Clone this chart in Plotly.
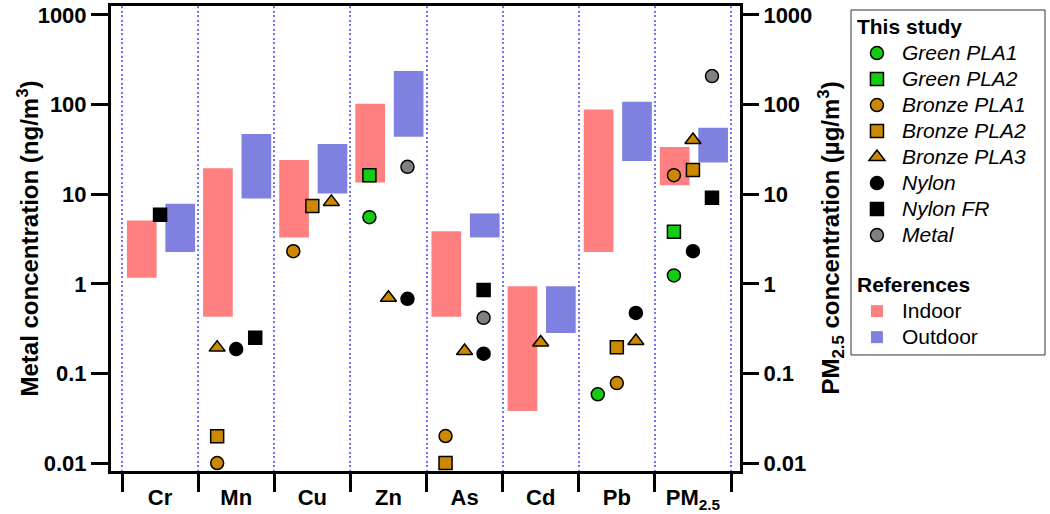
import plotly.graph_objects as go

# ---------------- data ----------------
categories = ["Cr", "Mn", "Cu", "Zn", "As", "Cd", "Pb", "PM<sub>2.5</sub>"]

indoor_low = [1.17, 0.43, 3.29, 13.5, 0.43, 0.038, 2.27, 12.6]
indoor_high = [5.1, 19.5, 24.0, 102.0, 3.87, 0.94, 88.3, 33.6]
outdoor_low = [2.27, 8.95, 10.2, 43.7, 3.29, 0.283, 23.4, 22.6]
outdoor_high = [7.8, 47.0, 36.2, 237.0, 6.1, 0.94, 107.7, 55.2]

# study values per category (None = not reported), with slot in category (-1, 0, +1)
green_pla1 = [None, None, None, 5.54, None, None, 0.0585, 1.24]
green_pla1_slot = [0, 0, 0, -1, 0, 0, -1, -1]
green_pla2 = [None, None, None, 16.3, None, None, None, 3.8]
green_pla2_slot = [0, 0, 0, -1, 0, 0, 0, -1]
bronze_pla1 = [None, 0.01, 2.31, None, 0.020, None, 0.078, 16.3]
bronze_pla1_slot = [0, -1, -1, 0, -1, 0, 0, -1]
bronze_pla2 = [None, 0.0199, 7.36, None, 0.01, None, 0.196, 18.6]
bronze_pla2_slot = [0, -1, 0, 0, -1, 0, 0, 0]
bronze_pla3 = [None, 0.194, 8.2, 0.70, 0.178, 0.221, 0.23, 40.2]
bronze_pla3_slot = [0, -1, 1, 0, 0, 0, 1, 0]
nylon = [None, 0.187, None, 0.68, 0.166, None, 0.473, 2.31]
nylon_slot = [0, 0, 0, 1, 1, 0, 1, 0]
nylon_fr = [5.9, 0.25, None, None, 0.85, None, None, 9.12]
nylon_fr_slot = [0, 1, 0, 0, 1, 0, 0, 1]
metal = [None, None, None, 20.2, 0.417, None, None, 208.0]
metal_slot = [0, 0, 0, 1, 1, 0, 0, 1]

y_tickvals = [0.01, 0.1, 1, 10, 100, 1000]
y_ticktext = ["0.01", "0.1", "1", "10", "100", "1000"]

left_title = "Metal concentration (ng/m<sup>3</sup>)"
right_title = "PM<sub>2.5</sub> concentration (µg/m<sup>3</sup>)"

# ---------------- styling ----------------
FONT = "Liberation Sans, Arial, sans-serif"
SLOT = 0.25
GREEN = "#14cc14"
BRONZE = "#cc8800"
GREY = "#808080"
BLACK = "#000000"
INDOOR = "#ff8080"
OUTDOOR = "#8080e0"
LEG_PX = 21


def leg_text(t, italic=False, bold=False):
    if italic:
        t = f"<i>{t}</i>"
    if bold:
        t = f"<b>{t}</b>"
    return f'<span style="font-size:{LEG_PX}px">{t}</span>'


fig = go.Figure()

idx = list(range(len(categories)))

fig.add_trace(go.Bar(
    x=[i - 0.24 for i in idx],
    y=[h - l for h, l in zip(indoor_high, indoor_low)],
    base=indoor_low, width=0.39,
    marker=dict(color=INDOOR, line=dict(width=0)),
    name=leg_text("Indoor"), legendgroup="ref", legendrank=2000,
    legendgrouptitle=dict(text=leg_text("References", bold=True)),
    hoverinfo="skip",
))
fig.add_trace(go.Bar(
    x=[i + 0.265 for i in idx],
    y=[h - l for h, l in zip(outdoor_high, outdoor_low)],
    base=outdoor_low, width=0.39,
    marker=dict(color=OUTDOOR, line=dict(width=0)),
    name=leg_text("Outdoor"), legendgroup="ref", legendrank=2001,
    hoverinfo="skip",
))

series = [
    ("Green PLA1", green_pla1, green_pla1_slot, "circle", GREEN),
    ("Green PLA2", green_pla2, green_pla2_slot, "square", GREEN),
    ("Bronze PLA1", bronze_pla1, bronze_pla1_slot, "circle", BRONZE),
    ("Bronze PLA2", bronze_pla2, bronze_pla2_slot, "square", BRONZE),
    ("Bronze PLA3", bronze_pla3, bronze_pla3_slot, "triangle-up", BRONZE),
    ("Nylon", nylon, nylon_slot, "circle", BLACK),
    ("Nylon FR", nylon_fr, nylon_fr_slot, "square", BLACK),
    ("Metal", metal, metal_slot, "circle", GREY),
]

for k, (name, vals, slots, sym, col) in enumerate(series):
    xs, ys = [], []
    for i, (v, s) in enumerate(zip(vals, slots)):
        if v is not None:
            xs.append(i + s * SLOT)
            ys.append(v)
    fig.add_trace(go.Scatter(
        x=xs, y=ys, mode="markers", name=leg_text(name, italic=True),
        marker=dict(symbol=sym, size=14 if sym == "triangle-up" else 13,
                    color=col, line=dict(color="black", width=1.5)),
        legendgroup="study", legendrank=1000 + k,
        legendgrouptitle=dict(text=leg_text("This study", bold=True)) if k == 0 else None,
        hoverinfo="skip",
    ))

# helper trace to activate the right axis
fig.add_trace(go.Scatter(x=[0], y=[1], yaxis="y2", mode="markers",
                         marker=dict(opacity=0), showlegend=False, hoverinfo="skip"))

yrange = [-2.089, 3.100]
tickfont = dict(family=FONT, size=22, color="black", weight="bold")
titlefont = dict(family=FONT, size=24, color="black", weight="bold")

fig.update_layout(
    width=1050, height=514,
    margin=dict(l=111, r=310, t=6, b=43),
    paper_bgcolor="white", plot_bgcolor="white",
    barmode="overlay",
    font=dict(family=FONT, color="black"),
    showlegend=True,
    xaxis=dict(
        range=[-0.6445, 7.618], automargin=False,
        tickmode="array", tickvals=idx, ticktext=categories,
        ticks="", showgrid=False, zeroline=False,
        tickfont=tickfont, ticklabelstandoff=5,
        showline=True, linewidth=3, linecolor="black", mirror=True,
        minor=dict(tickmode="array", tickvals=[i - 0.5 for i in range(9)],
                   ticks="outside", ticklen=18, tickwidth=3, tickcolor="black",
                   showgrid=True, gridcolor="#7373ff", gridwidth=2,
                   griddash="2px,2.5px"),
    ),
    yaxis=dict(
        type="log", range=yrange, automargin=False,
        tickmode="array", tickvals=y_tickvals, ticktext=y_ticktext,
        ticks="outside", ticklen=17, tickwidth=3, tickcolor="black",
        tickfont=tickfont, showgrid=False, zeroline=False,
        showline=True, linewidth=3, linecolor="black",
    ),
    yaxis2=dict(
        type="log", range=yrange, overlaying="y", side="right", anchor="x",
        automargin=False,
        tickmode="array", tickvals=y_tickvals, ticktext=y_ticktext,
        ticks="outside", ticklen=16, tickwidth=3, tickcolor="black",
        tickfont=tickfont, showgrid=False, zeroline=False,
        showline=True, linewidth=3, linecolor="black",
    ),
    legend=dict(
        x=1.178, y=0.9935, xanchor="left", yanchor="top",
        borderwidth=0, bgcolor="rgba(0,0,0,0)",
        font=dict(family=FONT, size=17.7, color="black"),
        grouptitlefont=dict(family=FONT, size=17.7, color="black"),
        itemwidth=40, tracegroupgap=24, traceorder="grouped",
    ),
    shapes=[dict(type="rect", xref="paper", yref="paper",
                 x0=1.1765, x1=1.4849, y0=0.2495, y1=0.9914,
                 line=dict(color="#333333", width=1), fillcolor="rgba(0,0,0,0)")],
    annotations=[
        dict(text=left_title, xref="paper", yref="paper", x=-0.1335, y=0.5,
             xanchor="center", yanchor="middle", textangle=-90, showarrow=False,
             font=titlefont),
        dict(text=right_title, xref="paper", yref="paper", x=1.1431, y=0.5,
             xanchor="center", yanchor="middle", textangle=-90, showarrow=False,
             font=titlefont),
    ],
)

fig.write_html("out.html", post_script="document.body.style.margin='0';",
               config={"displayModeBar": False})
